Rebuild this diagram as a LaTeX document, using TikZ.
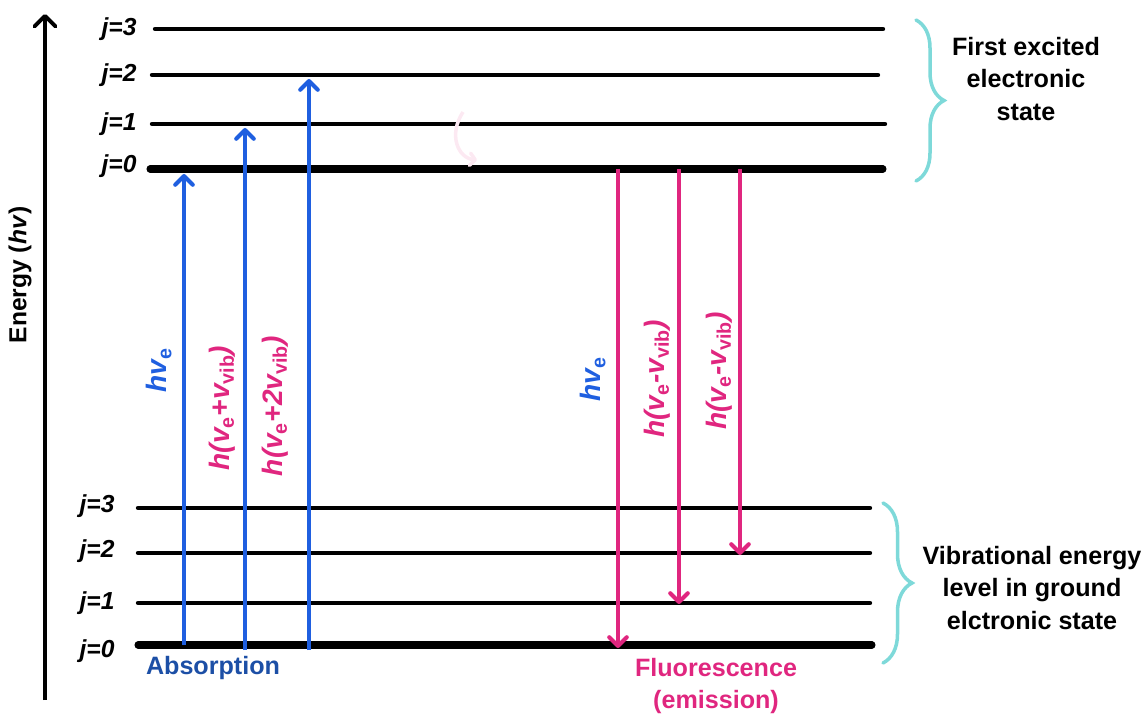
\documentclass[tikz,border=0pt]{standalone}
\usepackage{fontspec}
\setmainfont{Liberation Sans}
\usetikzlibrary{arrows.meta,decorations.pathreplacing}
\definecolor{absblue}{HTML}{1F5FE0}
\definecolor{absdark}{HTML}{1C4FA6}
\definecolor{emipink}{HTML}{E0267F}
\definecolor{bracecyan}{HTML}{7ED9D9}

\begin{document}
\begin{tikzpicture}[x=0.02cm,y=-0.02cm]
\tikzstyle{every node}+=[inner sep=0pt]
\tikzstyle{level}=[black, line width=2.5pt, line cap=round]
\tikzstyle{zerolevel}=[black, line width=4pt, line cap=round]
\tikzstyle{jlabel}=[font=\fontsize{14}{14}\selectfont\bfseries\itshape]
\tikzstyle{absarrow}=[absblue, line width=2.3pt, -{Straight Barb[length=5pt,width=10pt,round]}]
\tikzstyle{emiarrow}=[emipink, line width=2.3pt, -{Straight Barb[length=5pt,width=10pt,round]}]
\tikzstyle{trlabel}=[rotate=90, font=\fontsize{16}{16}\selectfont\bfseries\itshape]
\tikzstyle{sidetext}=[align=center, font=\fontsize{14.3}{18.5}\selectfont\bfseries]
\tikzstyle{bracket}=[bracecyan, line width=2pt, line cap=round, decorate, decoration={brace, amplitude=0.56cm}]

\useasboundingbox (0,0) rectangle (1148,715);

% energy axis
\coordinate (axisbot) at (45,700);
\coordinate (axistop) at (45,14);
\draw [black, line width=2.2pt, -{Straight Barb[length=6pt,width=12pt,round]}] (axisbot) -- (axistop);
\node [rotate=90, font=\fontsize{14}{14}\selectfont\bfseries] (energy) at (20,275) {Energy (\textit{hv})};

% first excited electronic state
\foreach \j/\xl/\xr/\y in {3/155/883/29, 2/152/878/75, 1/152/885/124}{
  \coordinate (ex\j l) at (\xl,\y);
  \coordinate (ex\j r) at (\xr,\y);
  \draw [level] (ex\j l) -- (ex\j r);
  \node [jlabel] (exlab\j) at (119,\y) {j=\j};
}
\coordinate (ex0l) at (150,169);
\coordinate (ex0r) at (883,169);
\draw [zerolevel] (ex0l) -- (ex0r);
\node [jlabel] (exlab0) at (119,166) {j=0};

% ground electronic state
\foreach \j/\y/\ly in {3/508/506, 2/553/551, 1/603/603}{
  \coordinate (gr\j l) at (138,\y);
  \coordinate (gr\j r) at (870,\y);
  \draw [level] (gr\j l) -- (gr\j r);
  \node [jlabel] (grlab\j) at (97,\ly) {j=\j};
}
\coordinate (gr0l) at (138,645);
\coordinate (gr0r) at (872,645);
\draw [zerolevel] (gr0l) -- (gr0r);
\node [jlabel] (grlab0) at (97,651) {j=0};

% absorption
\coordinate (ab1) at (184,645);
\coordinate (at1) at (184,174);
\coordinate (ab2) at (245,650);
\coordinate (at2) at (245,128);
\coordinate (ab3) at (309,650);
\coordinate (at3) at (309,79);
\draw [absarrow] (ab1) -- (at1);
\draw [absarrow] (ab2) -- (at2);
\draw [absarrow] (ab3) -- (at3);
\node [trlabel, absblue] (abl1) at (159,370) {hv\textsubscript{\upshape e}};
\node [trlabel, emipink] (abl2) at (222,408) {h(v\textsubscript{\upshape e}+v\textsubscript{\upshape vib})};
\node [trlabel, emipink] (abl3) at (275,406) {h(v\textsubscript{\upshape e}+2v\textsubscript{\upshape vib})};
\node [font=\fontsize{14.3}{14}\selectfont\bfseries, absdark] (absorb) at (213,668) {Absorption};

% fluorescence
\coordinate (es1) at (618,169);
\coordinate (et1) at (618,648);
\coordinate (es2) at (679,169);
\coordinate (et2) at (679,604);
\coordinate (es3) at (740,169);
\coordinate (et3) at (740,555);
\draw [emiarrow] (es1) -- (et1);
\draw [emiarrow] (es2) -- (et2);
\draw [emiarrow] (es3) -- (et3);
\node [trlabel, absblue] (eml1) at (593,379) {hv\textsubscript{\upshape e}};
\node [trlabel, emipink] (eml2) at (657,379) {h(v\textsubscript{\upshape e}-v\textsubscript{\upshape vib})};
\node [trlabel, emipink] (eml3) at (719,371) {h(v\textsubscript{\upshape e}-v\textsubscript{\upshape vib})};
\node [sidetext, emipink] (fluor) at (716,686) {Fluorescence\\(emission)};

% faint relaxation mark
\coordinate (rx1) at (463,112);
\coordinate (rx2) at (477,160);
\draw [emipink!10, line width=2pt, -{Straight Barb[length=3pt,width=7pt,round]}] (rx1) .. controls (448,135) and (458,158) .. (rx2);

% braces
\coordinate (ub1) at (916,20);
\coordinate (ub2) at (916,181);
\draw [bracket] (ub1) -- (ub2);
\node [sidetext] (upper) at (1026,79) {First excited\\electronic\\state};
\coordinate (lb1) at (883,503);
\coordinate (lb2) at (883,663);
\draw [bracket, decoration={brace, amplitude=0.58cm}] (lb1) -- (lb2);
\node [sidetext] (lower) at (1032,588) {Vibrational energy\\level in ground\\elctronic state};
\end{tikzpicture}
\end{document}
